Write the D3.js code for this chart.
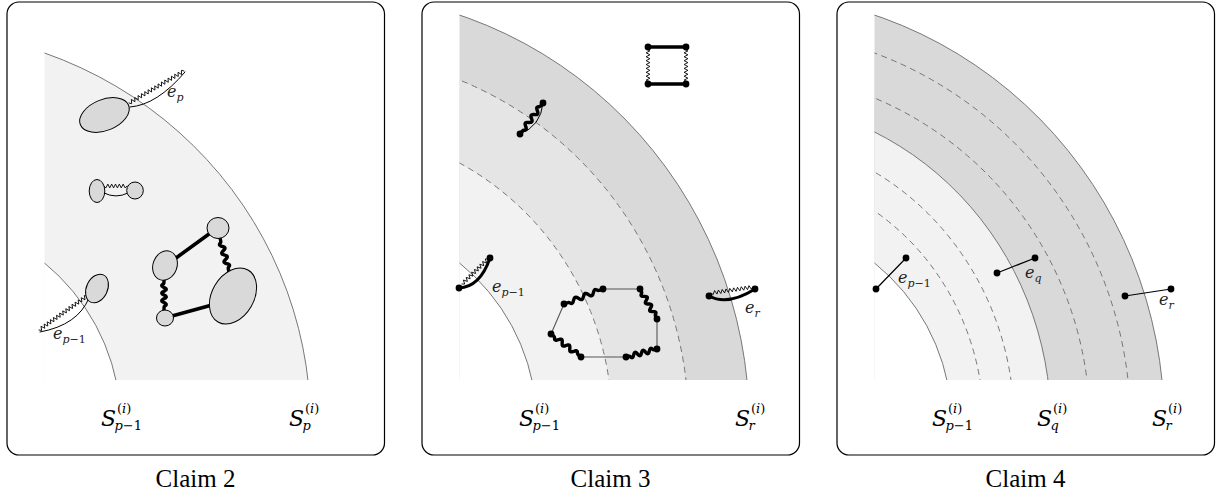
<!DOCTYPE html>
<html>
<head>
<meta charset="utf-8">
<script src="https://cdn.jsdelivr.net/npm/d3@7"></script>
<style>
  body { margin: 0; background: #fff; }
  text { font-family: "Liberation Serif", "DejaVu Serif", serif; }
  text.math { font-family: "DejaVu Serif", serif; }
</style>
</head>
<body>
<svg id="fig" width="1224" height="495"></svg>
<script>
// All coordinates are panel-local (panel 1 frame); panels are shifted by panelStep.
const panelStep = 415;
const ringCentre = [-90, 424];
const clipLeft = 44.5, clipBottom = 380;

// Each ring: where it meets the left edge (y) and bottom edge (x) of the clip box
const ringsClaim2 = [
  { leftY: 53, bottomX: 308, fill: "#f2f2f2", dashed: false },
  { leftY: 263, bottomX: 116, fill: "#ffffff", dashed: false }
];
const ringsClaim3 = [
  { leftY: 15, bottomX: 332, fill: "#d9d9d9", dashed: false },
  { leftY: 80, bottomX: 271, fill: "#e5e5e5", dashed: true },
  { leftY: 163, bottomX: 194, fill: "#f2f2f2", dashed: true },
  { leftY: 263, bottomX: 117, fill: "#ffffff", dashed: false }
];
const ringsClaim4 = [
  { leftY: 15, bottomX: 332, fill: "#d9d9d9", dashed: false },
  { leftY: 53, bottomX: 298, fill: "#d9d9d9", dashed: true },
  { leftY: 98, bottomX: 257, fill: "#d9d9d9", dashed: true },
  { leftY: 132, bottomX: 218, fill: "#f2f2f2", dashed: false },
  { leftY: 172, bottomX: 181, fill: "#f2f2f2", dashed: true },
  { leftY: 211, bottomX: 150, fill: "#f2f2f2", dashed: true },
  { leftY: 263, bottomX: 117, fill: "#ffffff", dashed: false }
];

// Blobs (Claim 2): centre, radii, rotation
const blobsClaim2 = [
  { x: 104.5, y: 115, rx: 26, ry: 15.5, rot: -22 },
  { x: 97, y: 191, rx: 7.8, ry: 11.5, rot: 0 },
  { x: 135, y: 190.5, rx: 8.3, ry: 8.5, rot: 0 },
  { x: 218, y: 228, rx: 11, ry: 10.5, rot: 0 },
  { x: 165, y: 265.5, rx: 12, ry: 15, rot: 20 },
  { x: 233, y: 296, rx: 21, ry: 30, rot: 30 },
  { x: 165, y: 318, rx: 8.5, ry: 8, rot: 0 },
  { x: 97, y: 288.5, rx: 10.5, ry: 15, rot: 25 }
];

// Edges: kind = zig (thin zigzag), wave (thick wiggle), line, thin, quad (curve with control)
const edgesClaim2 = [
  { kind: "zig", from: [129, 103], to: [184, 71] },
  { kind: "quad", from: [130, 107], ctrl: [157, 105], to: [185, 72], w: 1 },
  { kind: "zig", from: [104, 186], to: [127, 186] },
  { kind: "quad", from: [104, 193], ctrl: [116, 199], to: [128, 193], w: 1 },
  { kind: "zig", from: [87, 296], to: [39, 330] },
  { kind: "quad", from: [89, 298], ctrl: [78, 325], to: [40, 332], w: 1 },
  { kind: "line", from: [176, 258], to: [209, 234], w: 3.6 },
  { kind: "line", from: [172, 316], to: [212, 305], w: 3.6 },
  { kind: "wave", from: [164, 280], to: [164, 310] },
  { kind: "wave", from: [220, 238], to: [229, 272] }
];

const edgesClaim3 = [
  // square
  { kind: "line", from: [233, 47], to: [271, 47], w: 3.6 },
  { kind: "line", from: [233, 84], to: [271, 84], w: 3.6 },
  { kind: "zig", from: [233, 47], to: [233, 84] },
  { kind: "zig", from: [271, 47], to: [271, 84] },
  // edge on the dashed ring
  { kind: "wave", from: [105, 134], to: [128, 103] },
  { kind: "quad", from: [105, 134], ctrl: [126, 126], to: [128, 103], w: 1 },
  // e_{p-1}
  { kind: "quad", from: [44, 288], ctrl: [65, 287], to: [75, 258], w: 3 },
  { kind: "zig", from: [47, 284], to: [73, 259] },
  // e_r
  { kind: "quad", from: [294, 296], ctrl: [313, 306], to: [340, 289], w: 3 },
  { kind: "zig", from: [296, 293], to: [338, 287] },
  // cycle
  { kind: "wave", from: [149, 304], to: [188, 289] },
  { kind: "thin", from: [188, 289], to: [225, 289] },
  { kind: "wave", from: [225, 289], to: [242, 319] },
  { kind: "thin", from: [242, 319], to: [242, 349] },
  { kind: "wave", from: [242, 349], to: [211, 357] },
  { kind: "thin", from: [211, 357], to: [166, 357] },
  { kind: "wave", from: [166, 357], to: [136, 334] },
  { kind: "thin", from: [136, 334], to: [149, 304] }
];
const dotsClaim3 = [
  [233, 47], [271, 47], [233, 84], [271, 84],
  [105, 134], [128, 103], [44, 288], [75, 258], [294, 296], [340, 289],
  [149, 304], [188, 289], [225, 289], [242, 319], [242, 349], [211, 357], [166, 357], [136, 334]
];

const edgesClaim4 = [
  { kind: "line", from: [46, 289], to: [76, 258], w: 1.2 },
  { kind: "line", from: [167, 273], to: [205, 258], w: 1.2 },
  { kind: "line", from: [295, 296], to: [341, 289], w: 1.2 }
];
const dotsClaim4 = [[46, 289], [76, 258], [167, 273], [205, 258], [295, 296], [341, 289]];

// Edge labels: x, baseline, subscript
const edgeLabels = [
  [{ x: 167, y: 97, sub: "p" }, { x: 53, y: 339, sub: "p-1" }],
  [{ x: 77, y: 292, sub: "p-1" }, { x: 330, y: 313, sub: "r" }],
  [{ x: 68, y: 283, sub: "p-1" }, { x: 195, y: 278, sub: "q" }, { x: 329, y: 305, sub: "r" }]
];
// Set labels S^{(i)}_sub
const setLabels = [
  [{ x: 101, sub: "p-1" }, { x: 289, sub: "p" }],
  [{ x: 104, sub: "p-1" }, { x: 320, sub: "r" }],
  [{ x: 102, sub: "p-1" }, { x: 207, sub: "q" }, { x: 322, sub: "r" }]
];
const captions = ["Claim 2", "Claim 3", "Claim 4"];

const panels = [
  { rings: ringsClaim2, blobs: blobsClaim2, edges: edgesClaim2, dots: [] },
  { rings: ringsClaim3, blobs: [], edges: edgesClaim3, dots: dotsClaim3 },
  { rings: ringsClaim4, blobs: [], edges: edgesClaim4, dots: dotsClaim4 }
];

const svg = d3.select("#fig");
svg.append("defs").append("clipPath").attr("id", "box")
  .append("rect").attr("x", clipLeft).attr("y", 0)
  .attr("width", 400).attr("height", clipBottom);

// ellipse radii that pass through both measured crossings
function ringRadii(r) {
  const [cx, cy] = ringCentre;
  const a = (clipLeft - cx) ** 2, b = (cy - r.leftY) ** 2;
  const c = (r.bottomX - cx) ** 2, d = (cy - clipBottom) ** 2;
  const det = a * d - b * c;
  return [1 / Math.sqrt((d - b) / det), 1 / Math.sqrt((a - c) / det)];
}

function zigzag(p, q, amp = 1.9, half = 1.9) {
  const dx = q[0] - p[0], dy = q[1] - p[1], L = Math.hypot(dx, dy);
  const nx = -dy / L, ny = dx / L;
  const n = Math.max(2, Math.round(L / half));
  const pts = d3.range(n + 1).map(i => {
    const t = i / n;
    const o = (i === 0 || i === n) ? 0 : (i % 2 ? amp : -amp);
    return [p[0] + dx * t + nx * o, p[1] + dy * t + ny * o];
  });
  return d3.line()(pts);
}

// thick snake: straight lead-in/out, sine in the middle
function wave(p, q, amp = 2.3, period = 14) {
  const dx = q[0] - p[0], dy = q[1] - p[1], L = Math.hypot(dx, dy);
  const nx = -dy / L, ny = dx / L;
  const cycles = Math.max(2, Math.ceil(L / period));
  const lead = 0.12;
  const n = cycles * 16;
  const pts = [[p[0], p[1]]];
  d3.range(n + 1).forEach(i => {
    const s = i / n;
    const t = lead + (1 - 2 * lead) * s;
    const o = amp * Math.sin(2 * Math.PI * cycles * s);
    pts.push([p[0] + dx * t + nx * o, p[1] + dy * t + ny * o]);
  });
  pts.push([q[0], q[1]]);
  return d3.line().curve(d3.curveBasis)(pts);
}

function quad(e) {
  const path = d3.path();
  path.moveTo(...e.from);
  path.quadraticCurveTo(...e.ctrl, ...e.to);
  return path.toString();
}

function subSpans(t, sub) {
  if (sub === "p-1") {
    t.append("tspan").attr("font-style", "italic").text("p");
    t.append("tspan").attr("font-style", "normal").text("\u22121");
  } else {
    t.append("tspan").attr("font-style", "italic").text(sub);
  }
}

panels.forEach((panel, i) => {
  const g = svg.append("g").attr("transform", `translate(${i * panelStep},0)`);

  g.append("rect")
    .attr("x", 7).attr("y", 2).attr("width", 377.5).attr("height", 453)
    .attr("rx", 12).attr("fill", "#fff")
    .attr("stroke", "#000").attr("stroke-width", 1.2);

  const clip = g.append("g").attr("clip-path", "url(#box)");
  const radii = panel.rings.map(ringRadii);

  clip.selectAll("ellipse.band").data(panel.rings).join("ellipse")
    .attr("class", "band")
    .attr("cx", ringCentre[0]).attr("cy", ringCentre[1])
    .attr("rx", (d, k) => radii[k][0]).attr("ry", (d, k) => radii[k][1])
    .attr("fill", d => d.fill).attr("stroke", "none");

  clip.selectAll("ellipse.edge").data(panel.rings).join("ellipse")
    .attr("class", "edge")
    .attr("cx", ringCentre[0]).attr("cy", ringCentre[1])
    .attr("rx", (d, k) => radii[k][0]).attr("ry", (d, k) => radii[k][1])
    .attr("fill", "none")
    .attr("stroke", d => d.dashed ? "#6a6a6a" : "#777")
    .attr("stroke-width", d => d.dashed ? 0.9 : 1)
    .attr("stroke-dasharray", d => d.dashed ? "6,4.5" : null);

  // edges
  g.selectAll("path.e").data(panel.edges).join("path")
    .attr("class", "e")
    .attr("fill", "none")
    .attr("stroke", d => d.kind === "thin" ? "#555" : "#000")
    .attr("stroke-width", d => {
      if (d.kind === "zig") return 0.9;
      if (d.kind === "wave") return 3.4;
      if (d.kind === "thin") return 1.1;
      return d.w;
    })
    .attr("stroke-linecap", "round")
    .attr("d", d => {
      if (d.kind === "zig") return zigzag(d.from, d.to);
      if (d.kind === "wave") return wave(d.from, d.to);
      if (d.kind === "quad") return quad(d);
      return d3.line()([d.from, d.to]);
    });

  // blobs
  g.selectAll("ellipse.blob").data(panel.blobs).join("ellipse")
    .attr("class", "blob")
    .attr("transform", d => `translate(${d.x},${d.y}) rotate(${d.rot})`)
    .attr("rx", d => d.rx).attr("ry", d => d.ry)
    .attr("fill", "#d9d9d9").attr("stroke", "#000").attr("stroke-width", 1);

  // dots
  g.selectAll("circle.dot").data(panel.dots).join("circle")
    .attr("class", "dot")
    .attr("cx", d => d[0]).attr("cy", d => d[1]).attr("r", 3.4)
    .attr("fill", "#000");

  // edge labels
  edgeLabels[i].forEach(l => {
    const t = g.append("text").attr("class", "math").attr("x", l.x).attr("y", l.y)
      .attr("font-size", 16).attr("fill", "#222");
    t.append("tspan").attr("font-style", "italic").text("e");
    const s = t.append("tspan").attr("dy", 4).attr("font-size", 11);
    subSpans(s, l.sub);
  });

  // set labels
  setLabels[i].forEach(l => {
    g.append("text").attr("class", "math").attr("x", l.x).attr("y", 426)
      .attr("font-size", 22).attr("font-style", "italic").text("S");
    const sup = g.append("text").attr("class", "math")
      .attr("x", l.x + 16).attr("y", 412.5).attr("font-size", 13);
    sup.append("tspan").text("(");
    sup.append("tspan").attr("font-style", "italic").text("i");
    sup.append("tspan").text(")");
    const sub = g.append("text").attr("class", "math")
      .attr("x", l.x + 13.5).attr("y", 430).attr("font-size", 13);
    subSpans(sub, l.sub);
  });

  g.append("text").attr("x", 195.5).attr("y", 487)
    .attr("text-anchor", "middle").attr("font-size", 25)
    .text(captions[i]);
});
</script>
</body>
</html>
